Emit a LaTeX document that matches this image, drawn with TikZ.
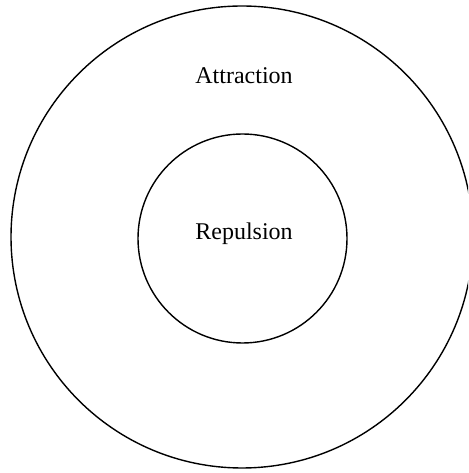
\documentclass[tikz,border=0pt]{standalone}
\usepackage{fontspec}
\setmainfont{Liberation Serif}
\begin{document}
\begin{tikzpicture}[x=1pt,y=1pt,
  ring/.style={draw=black,line width=1.4pt},
  lbl/.style={anchor=base,inner sep=0pt,font=\fontsize{24}{28}\selectfont}]
\useasboundingbox (0,0) rectangle (468,473);
\begin{scope}
\clip (0,0) rectangle (468,473);
\node[ring,circle,minimum size=462pt,inner sep=0pt] (outer) at (242,236) {};
\end{scope}
\node[ring,circle,minimum size=209pt,inner sep=0pt] (inner) at (242.5,234.5) {};
\node[lbl] (attr) at (244,389) {Attraction};
\node[lbl] (rep) at (244,233) {Repulsion};
\end{tikzpicture}
\end{document}
